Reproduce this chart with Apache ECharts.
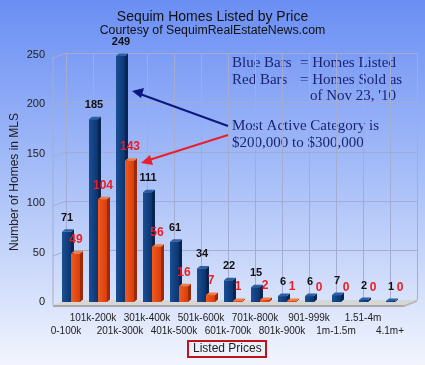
<!DOCTYPE html>
<html><head><meta charset="utf-8">
<script src="https://cdn.jsdelivr.net/npm/echarts@6/dist/echarts.min.js"></script>
<style>html,body{margin:0;padding:0;}#c{width:425px;height:365px;}</style>
</head><body><div id="c"></div>
<script>
var categories = ['0-100k','101k-200k','201k-300k','301k-400k','401k-500k','501k-600k','601k-700k','701k-800k','801k-900k','901-999k','1m-1.5m','1.51-4m','4.1m+'];
var listed = [71,185,249,111,61,34,22,15,6,6,7,2,1];
var sold = [49,104,143,56,16,7,1,2,1,0,0,0,0];
var yTicks = [0,50,100,150,200,250];

var chart = echarts.init(document.getElementById('c'));

function barRender(dx0, front, side, topc, labelColor, labelSize) {
  return function (params, api) {
    var idx = api.value(0), v = api.value(1);
    var t = api.coord([idx, v]), b = api.coord([idx, 0]);
    var x0 = t[0] + dx0, w = 9, x1 = x0 + w, yT = t[1], yB = b[1];
    var dX = 3, dY = 2.5;
    var children = [];
    if (v > 0) {
      children.push({type:'polygon', shape:{points:[[x1,yB],[x1+dX,yB-dY],[x1+dX,yT-dY],[x1,yT]]}, style:{fill:side}});
      children.push({type:'polygon', shape:{points:[[x0,yT],[x0+dX,yT-dY],[x1+dX,yT-dY],[x1,yT]]}, style:{fill:topc}});
      children.push({type:'rect', shape:{x:x0,y:yT,width:w,height:yB-yT}, style:{fill:front}});
    }
    children.push({type:'text', style:{text:String(v), x:x0+w/2+0.5, y:yT-14, align:'center', verticalAlign:'middle',
      fill:labelColor, font:'bold '+labelSize+'px "Liberation Sans", Arial, sans-serif'}});
    return {type:'group', children:children};
  };
}

var lc = '#a4acd2';
function frameRender(params, api) {
  var cs = params.coordSys;
  var gx = cs.x, gw = cs.width;
  var yTop = api.coord([0, yTicks[yTicks.length-1]])[1];
  var y0 = api.coord([0, 0])[1];
  var ch = [];
  var bx = gx + 7, fx = gx - 6;
  yTicks.forEach(function (v) {
    var y = Math.round(api.coord([0, v])[1]);
    if (v > 0) {
      ch.push({type:'polygon', shape:{points:[[fx,y+2.5],[bx,y-2.5],[bx,y-1.5],[fx,y+3.5]]}, style:{fill:lc}});
    }
  });
  ch.push({type:'polygon', shape:{points:[[fx-0.5,yTop+2.5],[fx+0.5,yTop+2.5],[fx+0.5,y0+3],[fx-0.5,y0+3]]}, style:{fill:lc}});
  // floor
  ch.push({type:'polygon', shape:{points:[[bx,y0-2],[bx+gw,y0-2],[fx+gw,y0+3],[fx,y0+3]]}, style:{fill:'#d6d6d6'}});
  ch.push({type:'polygon', shape:{points:[[fx,y0+3],[fx+gw,y0+3],[fx+gw,y0+5],[fx,y0+5]]}, style:{fill:'#a9a9a9'}});
  ch.push({type:'polygon', shape:{points:[[fx+gw,y0+3],[bx+gw,y0-2],[bx+gw,y0],[fx+gw,y0+5]]}, style:{fill:'#b8b8b8'}});
  return {type:'group', children:ch};
}

var sans = '"Liberation Sans", Arial, sans-serif';
var serif = '"Liberation Serif", "Times New Roman", serif';
var navy = '#1b2470';

chart.setOption({
  animation: false,
  backgroundColor: {type:'linear', x:0, y:0, x2:0, y2:1, colorStops:[
    {offset:0, color:'#6a8ef4'}, {offset:0.5, color:'#a9c0f8'}, {offset:1, color:'#f2f5fd'}]},
  title: [
    {text:'Sequim Homes Listed by Price', left:'center', top:5, textStyle:{fontFamily:sans, fontSize:14, fontWeight:'normal', color:'#111'}},
    {text:'Courtesy of SequimRealEstateNews.com', left:'center', top:20, textStyle:{fontFamily:sans, fontSize:12.3, fontWeight:'normal', color:'#111'}},
    {text:'Listed Prices', left:188, top:341, padding:[2,5,2,5], borderColor:'#c0141c', borderWidth:2,
      textStyle:{fontFamily:sans, fontSize:12, fontWeight:'normal', color:'#222'}}
  ],
  grid: [
    {left:59, right:15, top:55, bottom:63, outerBoundsMode:'none', containLabel:false},
    {left:66, right:8, top:53, bottom:65, outerBoundsMode:'none', containLabel:false}
  ],
  xAxis: [
    {type:'category', data:categories, boundaryGap:true, gridIndex:0,
      axisLine:{show:false}, axisTick:{show:false}, splitLine:{show:false},
      axisLabel:{interval:0, margin:10, fontFamily:sans, fontSize:10, color:'#222', lineHeight:13, padding:[0,13,0,0],
        hideOverlap:false,
        formatter:function (v, i) { return i % 2 ? v + '\n ' : ' \n' + v; }}},
    {type:'category', data:categories, boundaryGap:true, gridIndex:1,
      axisLine:{show:false}, axisTick:{show:false}, axisLabel:{show:false},
      splitLine:{show:true, interval:0, lineStyle:{color:lc, width:1}}}
  ],
  yAxis: [
    {type:'value', min:0, max:250, interval:50, gridIndex:0,
      axisLine:{show:false}, axisTick:{show:false}, splitLine:{show:false},
      axisLabel:{margin:14, fontFamily:sans, fontSize:11, color:'#222', padding:[6,0,0,0]}},
    {type:'value', min:0, max:250, interval:50, gridIndex:1,
      axisLine:{show:true, lineStyle:{color:lc, width:1}}, axisTick:{show:false}, axisLabel:{show:false},
      splitLine:{show:true, lineStyle:{color:lc, width:1}}}
  ],
  series: [
    {type:'custom', name:'frame', renderItem:frameRender, data:[[0,0]], encode:{x:0,y:1}, clip:false, silent:true, z:1},
    {type:'custom', name:'Homes Listed', renderItem:barRender(-10.5,
      {type:'linear',x:0,y:0,x2:1,y2:0,colorStops:[{offset:0,color:'#1a4f94'},{offset:1,color:'#0b3470'}]},
      '#062550', '#2a5fa6', '#111', 11),
      data: listed.map(function (v, i) { return [i, v]; }), encode:{x:0,y:1}, clip:false, z:3},
    {type:'custom', name:'Homes Sold', renderItem:barRender(-1.5,
      {type:'linear',x:0,y:0,x2:1,y2:0,colorStops:[{offset:0,color:'#f05a1e'},{offset:1,color:'#d83e0c'}]},
      '#9a2a08', '#f47a40', '#ee1c24', 12),
      data: sold.map(function (v, i) { return [i, v]; }), encode:{x:0,y:1}, clip:false, z:4}
  ],
  graphic: [
    {type:'text', x:15, y:182, rotation:Math.PI/2, style:{text:'Number of Homes in MLS', font:'12px '+sans, fill:'#222', align:'center', verticalAlign:'middle'}},
    {type:'text', left:232, top:55, style:{text:'Blue Bars\nRed Bars', font:'15px '+serif, fill:navy, lineHeight:16.5}},
    {type:'text', left:300, top:55, style:{text:'= Homes Listed\n= Homes Sold as', font:'15px '+serif, fill:navy, lineHeight:16.5}},
    {type:'text', left:310, top:88, style:{text:"of Nov 23, '10", font:'15px '+serif, fill:navy, lineHeight:16.5}},
    {type:'text', left:232, top:118, style:{text:'Most Active Category is\n$200,000 to $300,000', font:'15px '+serif, fill:navy, lineHeight:17}},
    {type:'line', shape:{x1:228, y1:126, x2:140, y2:94}, style:{stroke:'#0c1680', lineWidth:2}, z:10},
    {type:'polygon', shape:{points:[[132,91],[144,88],[141,98]]}, style:{fill:'#0c1680'}, z:10},
    {type:'line', shape:{x1:228, y1:135, x2:149, y2:160}, style:{stroke:'#e8202a', lineWidth:2}, z:10},
    {type:'polygon', shape:{points:[[141,163],[150,155],[153,165]]}, style:{fill:'#e8202a'}, z:10}
  ]
});
</script></body></html>
